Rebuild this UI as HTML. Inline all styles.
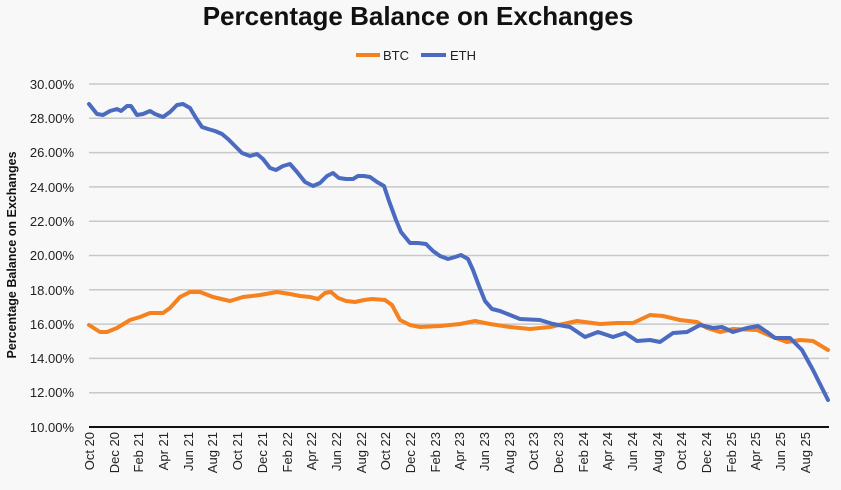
<!DOCTYPE html>
<html><head><meta charset="utf-8"><style>
html,body{margin:0;padding:0;background:#f8f8f8;}
svg{display:block;font-family:"Liberation Sans",Arial,sans-serif;}
</style></head><body>
<svg width="841" height="490" viewBox="0 0 841 490">
<rect width="841" height="490" fill="#f8f8f8"/>
<text x="418" y="25" text-anchor="middle" font-size="26" font-weight="bold" fill="#111">Percentage Balance on Exchanges</text>
<line x1="356" y1="55" x2="380" y2="55" stroke="#f5821f" stroke-width="4"/>
<text x="383" y="60" font-size="13" fill="#222">BTC</text>
<line x1="421" y1="55" x2="446" y2="55" stroke="#4a6bc0" stroke-width="4"/>
<text x="450" y="60" font-size="13" fill="#222">ETH</text>
<g stroke="#c8c8c8" stroke-width="1.5">
<line x1="89" y1="84" x2="829" y2="84"/>
<line x1="89" y1="118.3" x2="829" y2="118.3"/>
<line x1="89" y1="152.6" x2="829" y2="152.6"/>
<line x1="89" y1="186.9" x2="829" y2="186.9"/>
<line x1="89" y1="221.2" x2="829" y2="221.2"/>
<line x1="89" y1="255.5" x2="829" y2="255.5"/>
<line x1="89" y1="289.8" x2="829" y2="289.8"/>
<line x1="89" y1="324.1" x2="829" y2="324.1"/>
<line x1="89" y1="358.4" x2="829" y2="358.4"/>
<line x1="89" y1="392.7" x2="829" y2="392.7"/>
</g>
<line x1="89" y1="427" x2="829" y2="427" stroke="#111" stroke-width="2"/>
<g font-size="13" fill="#222" text-anchor="end">
<text x="74" y="89">30.00%</text>
<text x="74" y="123">28.00%</text>
<text x="74" y="157">26.00%</text>
<text x="74" y="192">24.00%</text>
<text x="74" y="226">22.00%</text>
<text x="74" y="260">20.00%</text>
<text x="74" y="295">18.00%</text>
<text x="74" y="329">16.00%</text>
<text x="74" y="363">14.00%</text>
<text x="74" y="397">12.00%</text>
<text x="74" y="432">10.00%</text>
</g>
<text transform="translate(16,255) rotate(-90)" text-anchor="middle" font-size="12.5" font-weight="bold" fill="#111">Percentage Balance on Exchanges</text>
<g font-size="13" fill="#222" text-anchor="end">
<text transform="translate(94,432) rotate(-90)">Oct 20</text>
<text transform="translate(119,432) rotate(-90)">Dec 20</text>
<text transform="translate(143,432) rotate(-90)">Feb 21</text>
<text transform="translate(168,432) rotate(-90)">Apr 21</text>
<text transform="translate(193,432) rotate(-90)">Jun 21</text>
<text transform="translate(217,432) rotate(-90)">Aug 21</text>
<text transform="translate(242,432) rotate(-90)">Oct 21</text>
<text transform="translate(267,432) rotate(-90)">Dec 21</text>
<text transform="translate(292,432) rotate(-90)">Feb 22</text>
<text transform="translate(316,432) rotate(-90)">Apr 22</text>
<text transform="translate(341,432) rotate(-90)">Jun 22</text>
<text transform="translate(366,432) rotate(-90)">Aug 22</text>
<text transform="translate(390,432) rotate(-90)">Oct 22</text>
<text transform="translate(415,432) rotate(-90)">Dec 22</text>
<text transform="translate(440,432) rotate(-90)">Feb 23</text>
<text transform="translate(464,432) rotate(-90)">Apr 23</text>
<text transform="translate(489,432) rotate(-90)">Jun 23</text>
<text transform="translate(514,432) rotate(-90)">Aug 23</text>
<text transform="translate(538,432) rotate(-90)">Oct 23</text>
<text transform="translate(563,432) rotate(-90)">Dec 23</text>
<text transform="translate(588,432) rotate(-90)">Feb 24</text>
<text transform="translate(612,432) rotate(-90)">Apr 24</text>
<text transform="translate(637,432) rotate(-90)">Jun 24</text>
<text transform="translate(662,432) rotate(-90)">Aug 24</text>
<text transform="translate(686,432) rotate(-90)">Oct 24</text>
<text transform="translate(711,432) rotate(-90)">Dec 24</text>
<text transform="translate(736,432) rotate(-90)">Feb 25</text>
<text transform="translate(760,432) rotate(-90)">Apr 25</text>
<text transform="translate(785,432) rotate(-90)">Jun 25</text>
<text transform="translate(810,432) rotate(-90)">Aug 25</text>
</g>
<polyline fill="none" stroke="#f5821f" stroke-width="4" stroke-linejoin="round" stroke-linecap="round" points="89,325 100,332 107,332 117,328 130,320 140,317 150,313 163,313 170,308 180,297 190,292 200,292 213,297 230,301 243,297 260,295 277,292 290,294 300,296 310,297 318,299 325,293 331,292 338,298 346,301 355,302 364,300 372,299 385,300 392,305 400,320 410,325 420,327 440,326 460,324 475,321 490,324 510,327 530,329 550,327 563,324 577,321 600,324 617,323 633,323 650,315 663,316 680,320 697,322 707,328 720,332 733,329 757,330 773,337 787,342 800,340 813,341 828,350"/>
<polyline fill="none" stroke="#4a6bc0" stroke-width="4" stroke-linejoin="round" stroke-linecap="round" points="89,104 97,114 103,115 110,111 117,109 121,111 127,106 131,106 137,115 143,114 150,111 155,114 163,117 170,112 177,105 183,104 190,108 196,118 202,127 208,129 215,131 222,134 228,139 235,146 242,153 250,156 257,154 263,159 270,168 276,170 283,166 290,164 297,172 305,182 313,186 320,183 327,176 333,173 339,178 346,179 353,179 358,176 364,176 370,177 377,182 384,186 389,201 396,220 401,232 410,243 418,243 426,244 433,251 440,256 448,259 455,257 461,255 468,259 473,270 479,286 485,301 492,309 500,311 510,315 520,319 540,320 553,324 570,327 585,337 598,332 613,337 625,333 637,341 650,340 660,342 673,333 687,332 700,325 713,328 722,327 733,332 747,328 758,326 767,332 775,338 790,338 802,350 813,370 828,400"/>
</svg>
</body></html>
